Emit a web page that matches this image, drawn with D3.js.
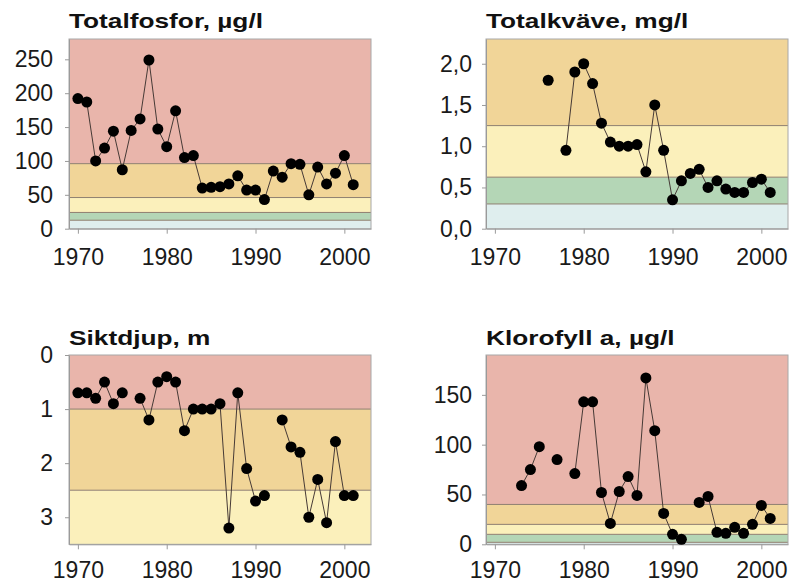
<!DOCTYPE html>
<html>
<head>
<meta charset="utf-8">
<script src="https://cdn.jsdelivr.net/npm/d3@7"></script>
<style>
  body { margin: 0; background: #fff; }
  svg text { font-family: "Liberation Sans", Arial, sans-serif; }
  .axis path, .axis line { stroke: #9a9a9a; }
  .axis text { font-size: 23px; fill: #1a1a1a; }
  .title { font-size: 21px; font-weight: bold; fill: #111; }
</style>
</head>
<body>
<svg id="chart"></svg>
<script>
// years on the x axis, null = no sample that year
const years = d3.range(1970, 2002);
const xTicks = [1970, 1980, 1990, 2000];

const fosfor = [192, 187, 100, 119, 144, 87, 145, 162, 249, 147,
  121, 174, 105, 108, 60, 61, 62, 66, 78, 57,
  57, 43, 85, 76, 96, 95, 50, 91, 66, 82,
  108, 65];
const kvave = [null, null, null, null, null, null, 1.80, null, 0.95, 1.90,
  2.00, 1.76, 1.28, 1.05, 1.00, 1.00, 1.02, 0.69, 1.50, 0.95,
  0.35, 0.58, 0.67, 0.72, 0.50, 0.58, 0.48, 0.44, 0.44, 0.56,
  0.60, 0.44];
const siktdjup = [0.7, 0.7, 0.8, 0.5, 0.9, 0.7, null, 0.8, 1.2, 0.5,
  0.4, 0.5, 1.4, 1.0, 1.0, 1.0, 0.9, 3.2, 0.7, 2.1,
  2.7, 2.6, null, 1.2, 1.7, 1.8, 3.0, 2.3, 3.1, 1.6,
  2.6, 2.6];
const klorofyll = [null, null, null, 59, 75, 98, null, 85, null, 71,
  143, 143, 52, 21, 53, 68, 49, 167, 114, 31,
  10, 5, null, 42, 48, 12, 11, 17, 11, 20,
  39, 26];

// class limits (bottom to top) and the class of each band
const fosforBreaks = [0, 12.5, 24, 46, 96, 280];
const fosforClasses = ["blue", "green", "yellow", "orange", "red"];
const kvaveBreaks = [0, 0.3, 0.625, 1.25, 2.3];
const kvaveClasses = ["blue", "green", "yellow", "orange"];
const siktBreaks = [0, 1, 2.5, 3.5];
const siktClasses = ["red", "orange", "yellow"];
const klorBreaks = [0, 2, 10, 20, 40, 190];
const klorClasses = ["blue", "green", "yellow", "orange", "red"];

const fosforTicks = [0, 50, 100, 150, 200, 250];
const kvaveTicks = [0, 0.5, 1, 1.5, 2];
const siktTicks = [0, 1, 2, 3];
const klorTicks = [0, 50, 100, 150];

const classColor = {
  red: "#e9b5ab",
  orange: "#f1d598",
  yellow: "#fbf0bb",
  green: "#b4d6b6",
  blue: "#dfeeee",
};

const svg = d3.select("#chart").attr("width", 789).attr("height", 584);

function createPanel(opt) {
  const width = 302;
  const height = opt.height;
  const g = svg.append("g").attr("transform", `translate(${opt.left},${opt.top})`);

  const xscale = d3.scaleLinear().domain([1969, 2003]).range([0, width]);
  const yscale = d3.scaleLinear().domain(opt.domain).range(opt.reversed ? [0, height] : [height, 0]);

  // coloured class bands
  const bands = opt.classes.map((c, i) => ({ c, lo: opt.breaks[i], hi: opt.breaks[i + 1] }));
  g.selectAll("rect.band")
    .data(bands)
    .join("rect")
    .attr("class", "band")
    .attr("x", 0)
    .attr("width", width)
    .attr("y", (d) => Math.min(yscale(d.lo), yscale(d.hi)))
    .attr("height", (d) => Math.abs(yscale(d.lo) - yscale(d.hi)))
    .style("fill", (d) => classColor[d.c]);

  // dividing lines between classes
  g.selectAll("line.limit")
    .data(opt.breaks.slice(1, -1))
    .join("line")
    .attr("class", "limit")
    .attr("x1", 0)
    .attr("x2", width)
    .attr("y1", (d) => yscale(d))
    .attr("y2", (d) => yscale(d))
    .style("stroke", "#8f7f70")
    .style("stroke-width", 1);

  g.append("rect")
    .attr("width", width)
    .attr("height", height)
    .style("fill", "none")
    .style("stroke", "#a8a8a8");

  const xaxis = d3.axisBottom(xscale).tickValues(xTicks).tickFormat(d3.format("d"))
    .tickSize(5).tickSizeOuter(0).tickPadding(opt.xPad);
  g.append("g").attr("class", "axis").attr("transform", `translate(0,${height})`).call(xaxis);

  const yaxis = d3.axisLeft(yscale).tickValues(opt.ticks).tickFormat(opt.format)
    .tickSize(4).tickSizeOuter(0).tickPadding(opt.yPad);
  g.append("g").attr("class", "axis").call(yaxis);

  const pts = years.map((year, i) => ({ year, v: opt.values[i] }));
  const line = d3.line()
    .defined((d) => d.v !== null)
    .x((d) => xscale(d.year))
    .y((d) => yscale(d.v));
  g.append("path")
    .datum(pts)
    .attr("d", line)
    .style("fill", "none")
    .style("stroke", "#463a36")
    .style("stroke-width", 1);

  g.selectAll("circle")
    .data(pts.filter((d) => d.v !== null))
    .join("circle")
    .attr("cx", (d) => xscale(d.year))
    .attr("cy", (d) => yscale(d.v))
    .attr("r", 5.5)
    .style("fill", "#000");

  svg.append("text")
    .attr("class", "title")
    .attr("transform", `translate(${opt.left},${opt.titleY}) scale(1.25,1)`)
    .text(opt.title);
}

const comma = (d) => d3.format(".1f")(d).replace(".", ",");

createPanel({ title: "Totalfosfor, µg/l", left: 69, top: 39, height: 189.7, titleY: 28,
  values: fosfor, breaks: fosforBreaks, classes: fosforClasses, domain: [0, 280],
  ticks: fosforTicks, format: d3.format("d"), xPad: 15, yPad: 12 });
createPanel({ title: "Totalkväve, mg/l", left: 486, top: 39, height: 189.7, titleY: 28,
  values: kvave, breaks: kvaveBreaks, classes: kvaveClasses, domain: [0, 2.3],
  ticks: kvaveTicks, format: comma, xPad: 15, yPad: 10 });
createPanel({ title: "Siktdjup, m", left: 69, top: 355, height: 189.3, titleY: 345,
  values: siktdjup, breaks: siktBreaks, classes: siktClasses, domain: [0, 3.5], reversed: true,
  ticks: siktTicks, format: d3.format("d"), xPad: 12, yPad: 12 });
createPanel({ title: "Klorofyll a, µg/l", left: 486, top: 355, height: 189.3, titleY: 345,
  values: klorofyll, breaks: klorBreaks, classes: klorClasses, domain: [0, 190],
  ticks: klorTicks, format: d3.format("d"), xPad: 12, yPad: 10 });
</script>
</body>
</html>
